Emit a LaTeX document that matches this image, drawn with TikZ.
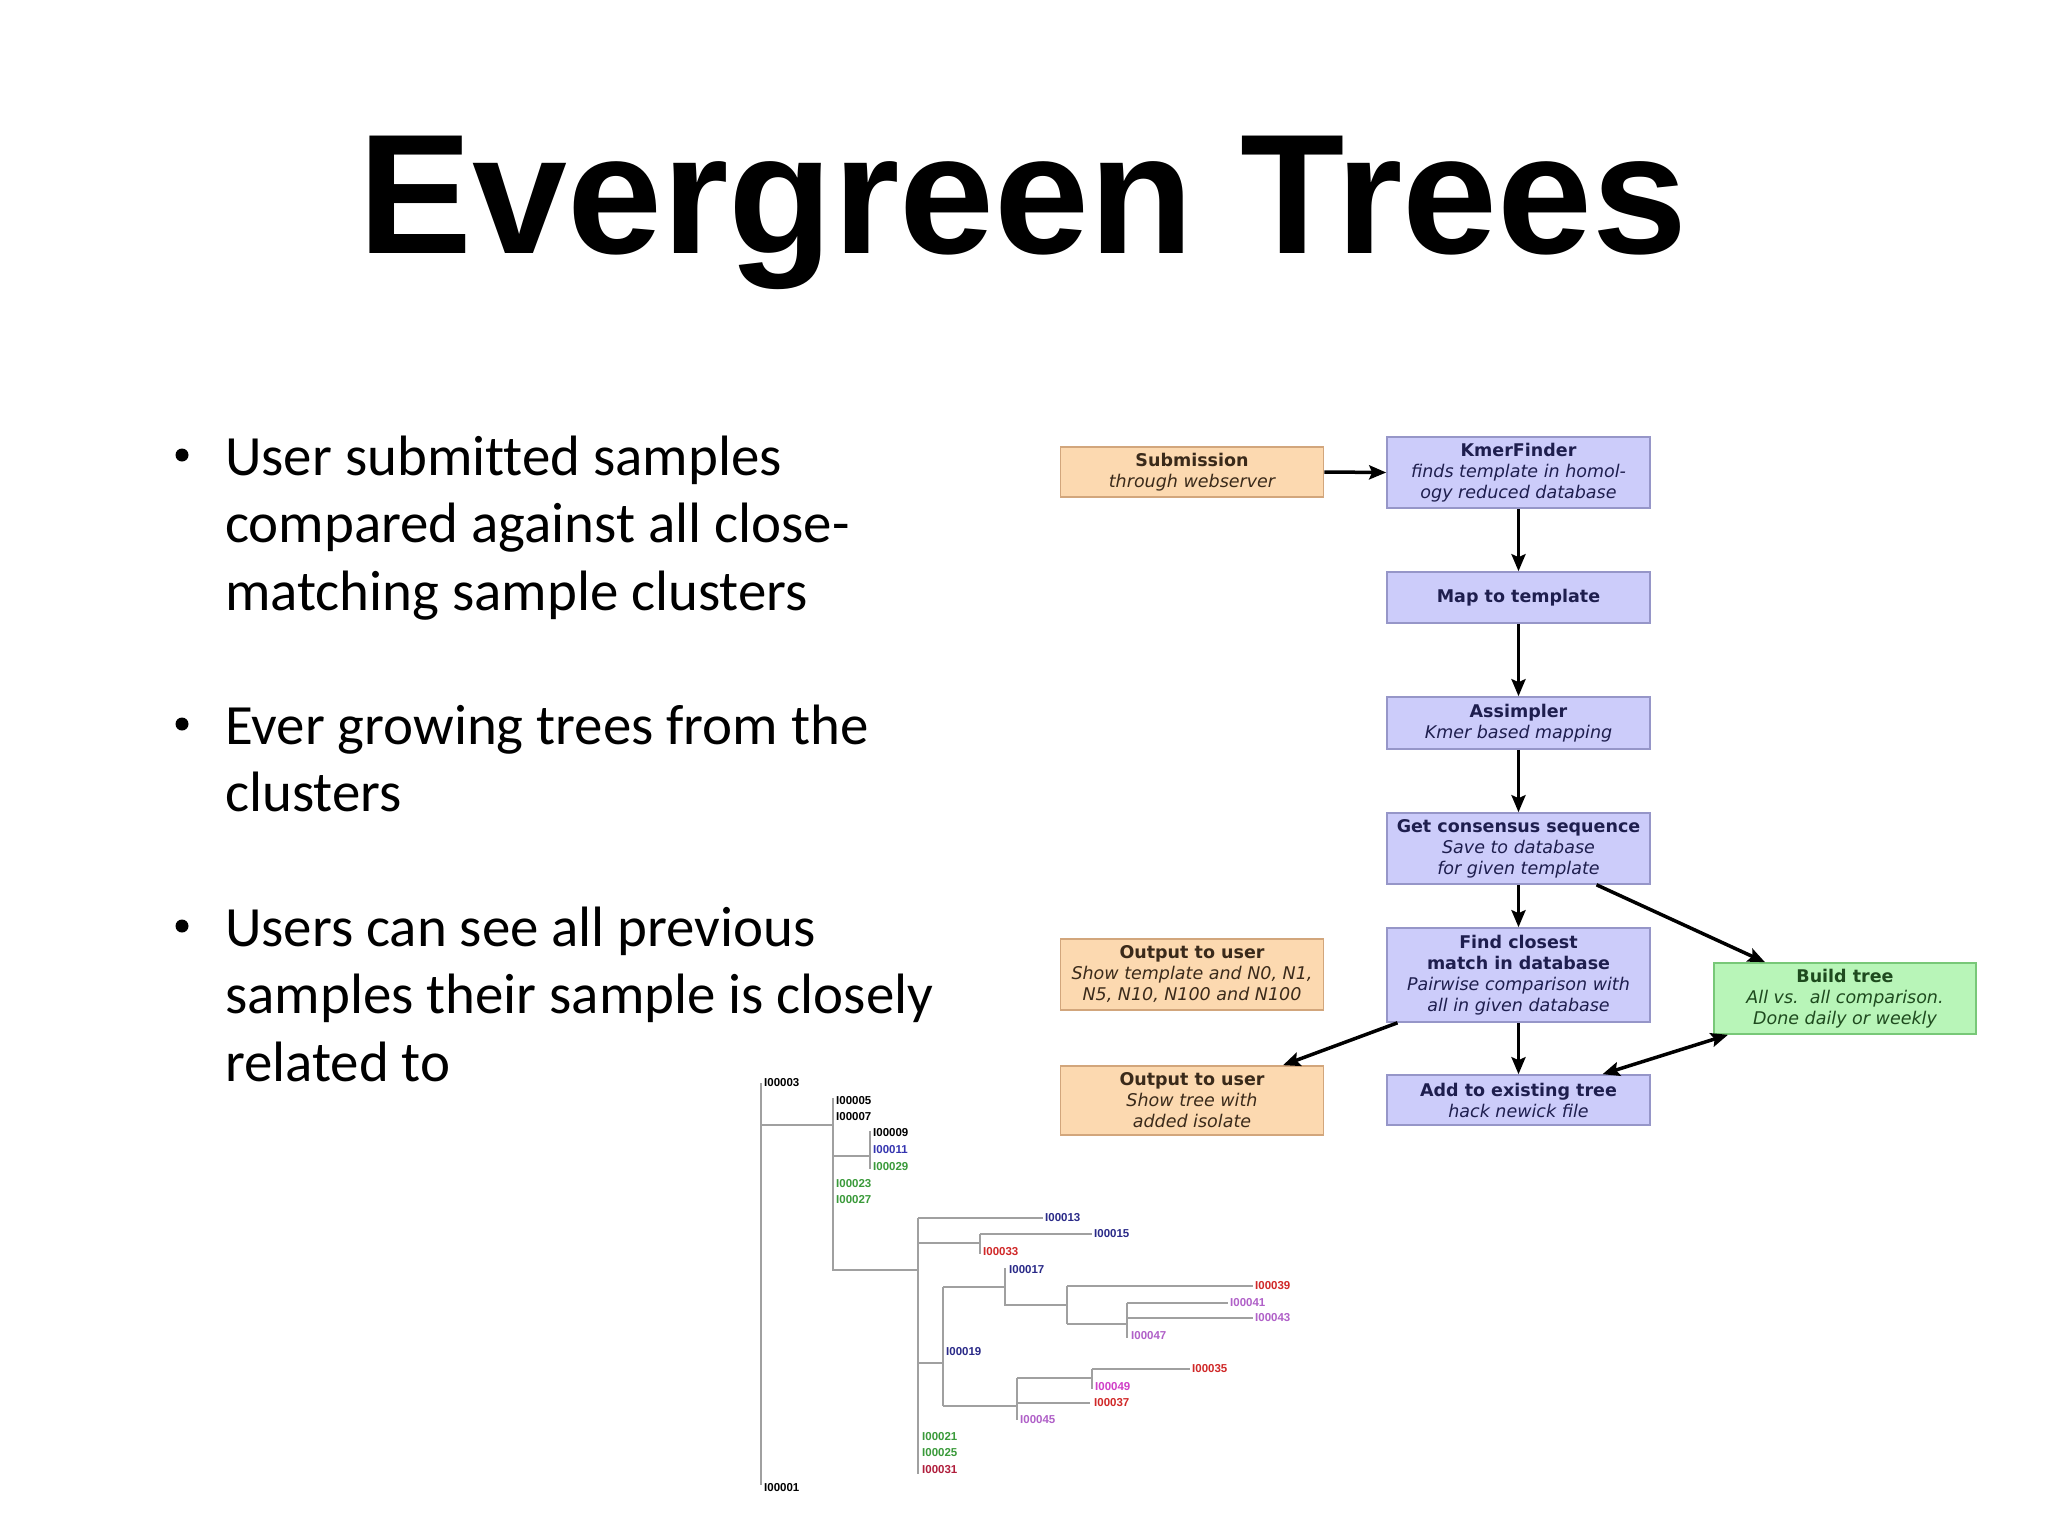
\documentclass[tikz,border=0pt]{standalone}
\usepackage{fontspec}
\setmainfont{Carlito}[Ligatures=NoCommon]
\newfontfamily\titlefont{Liberation Sans}
\newfontfamily\boxfont{DejaVu Sans}
\newfontfamily\treefont{Liberation Sans}
\usetikzlibrary{arrows.meta,calc}
\definecolor{orfill}{HTML}{FCD9B0}
\definecolor{ordraw}{HTML}{D2A67C}
\definecolor{blfill}{HTML}{CCCCFA}
\definecolor{bldraw}{HTML}{9696C8}
\definecolor{grfill}{HTML}{B8F5B8}
\definecolor{grdraw}{HTML}{78C878}
\definecolor{ortext}{HTML}{3A2A1A}
\definecolor{bltext}{HTML}{1E1E4E}
\definecolor{grtext}{HTML}{1E4A1E}
\definecolor{treegray}{HTML}{A0A0A0}
\definecolor{tnavy}{HTML}{2A2A88}
\definecolor{tblue}{HTML}{3535B0}
\definecolor{tgreen}{HTML}{3A9A3A}
\definecolor{tred}{HTML}{D02828}
\definecolor{tviolet}{HTML}{B060C8}
\definecolor{tmagenta}{HTML}{D040C8}
\definecolor{tcrimson}{HTML}{B01E3C}
\begin{document}
\begin{tikzpicture}[x=1pt,y=-1pt,
  bline/.style={anchor=base west, inner sep=0pt, font=\fontsize{56.9}{68}\selectfont},
  fbox/.style={draw, line width=1.6pt, inner sep=0pt, align=center,
     minimum width=263pt, font=\boxfont\fontsize{17.5}{21}\selectfont},
  orbox/.style={fbox, fill=orfill, draw=ordraw, text=ortext},
  blbox/.style={fbox, fill=blfill, draw=bldraw, text=bltext},
  grbox/.style={fbox, fill=grfill, draw=grdraw, text=grtext},
  arr/.style={line width=3.5pt, -{Stealth[length=17pt,width=14pt,inset=3pt]}},
  darr/.style={line width=3.5pt, {Stealth[length=17pt,width=14pt,inset=3pt]}-{Stealth[length=17pt,width=14pt,inset=3pt]}},
  tl/.style={draw=treegray, line width=1.8pt},
  lab/.style={anchor=west, inner sep=0pt, font=\treefont\bfseries\fontsize{11.5}{12}\selectfont}
]
\useasboundingbox[fill=white] (0,0) rectangle (2048,1536);

% title
\node[anchor=base, inner sep=0pt, font=\titlefont\bfseries\fontsize{170.7}{200}\selectfont] (title) at (1023,253) {Evergreen Trees};

% bullets
\fill (182,455) circle (6.5pt);
\fill (182,724) circle (6.5pt);
\fill (182,926) circle (6.5pt);
\node[bline] (b1a) at (225,475) {User submitted samples};
\node[bline] (b1b) at (225,542) {compared against all close-};
\node[bline] (b1c) at (225,610) {matching sample clusters};
\node[bline] (b2a) at (225,744) {Ever growing trees from the};
\node[bline] (b2b) at (225,811) {clusters};
\node[bline] (b3a) at (225,946) {Users can see all previous};
\node[bline] (b3b) at (225,1013) {samples their sample is closely};
\node[bline] (b3c) at (225,1081) {related to};

% flowchart
\node[orbox, minimum height=50pt] (sub) at (1192,472) {{\bfseries Submission}\\{\itshape through webserver}};
\node[blbox, minimum height=71pt] (kmer) at (1518.5,472.5) {{\bfseries KmerFinder}\\{\itshape finds template in homol-}\\{\itshape ogy reduced database}};
\node[blbox, minimum height=51pt] (map) at (1518.5,597.5) {{\bfseries Map to template}};
\node[blbox, minimum height=52pt] (assim) at (1518.5,723) {{\bfseries Assimpler}\\{\itshape Kmer based mapping}};
\node[blbox, minimum height=71pt] (cons) at (1518.5,848.5) {{\bfseries Get consensus sequence}\\{\itshape Save to database}\\{\itshape for given template}};
\node[blbox, minimum height=94pt] (find) at (1518.5,975) {{\bfseries Find closest}\\{\bfseries match in database}\\{\itshape Pairwise comparison with}\\{\itshape all in given database}};
\node[blbox, minimum height=50pt] (add) at (1518.5,1100) {{\bfseries Add to existing tree}\\{\itshape hack newick file}};
\node[grbox, minimum height=71pt, minimum width=262pt] (build) at (1845,998.5) {{\bfseries Build tree}\\{\itshape All vs.\ \ all comparison.}\\{\itshape Done daily or weekly}};
\node[orbox, minimum height=71pt] (out1) at (1192,974.5) {{\bfseries Output to user}\\{\itshape Show template and N0, N1,}\\{\itshape N5, N10, N100 and N100}};
\node[orbox, minimum height=69pt] (out2) at (1192,1100.5) {{\bfseries Output to user}\\{\itshape Show tree with}\\{\itshape added isolate}};

\draw[arr] (sub.east) -- (kmer.west);
\draw[arr] (kmer.south) -- (map.north);
\draw[arr] (map.south) -- (assim.north);
\draw[arr] (assim.south) -- (cons.north);
\draw[arr] (cons.south) -- (find.north);
\draw[arr] ($(cons.south)+(78,0)$) -- ($(build.north)+(-80,0)$);
\draw[arr] ($(find.south)+(-121,0)$) -- ($(out2.north)+(91,0)$);
\draw[arr] (find.south) -- (add.north);
\draw[darr] ($(add.north)+(84,0)$) -- ($(build.south)+(-117,0)$);

% tree lines
\draw[tl] (761,1083) -- (761,1485);
\draw[tl] (761,1125) -- (833,1125);
\draw[tl] (833,1098) -- (833,1270) -- (918,1270);
\draw[tl] (833,1156) -- (870,1156);
\draw[tl] (870,1131) -- (870,1169);
\draw[tl] (918,1218) -- (918,1474);
\draw[tl] (918,1218) -- (1043,1218);
\draw[tl] (918,1243) -- (980,1243);
\draw[tl] (980,1234) -- (980,1254);
\draw[tl] (980,1234) -- (1092,1234);
\draw[tl] (918,1363) -- (943,1363);
\draw[tl] (943,1287) -- (943,1406);
\draw[tl] (943,1287) -- (1005,1287);
\draw[tl] (1005,1268) -- (1005,1305) -- (1067,1305);
\draw[tl] (1067,1286) -- (1067,1324);
\draw[tl] (1067,1286) -- (1253,1286);
\draw[tl] (1067,1324) -- (1127,1324);
\draw[tl] (1127,1303) -- (1127,1338);
\draw[tl] (1127,1303) -- (1228,1303);
\draw[tl] (1127,1318) -- (1253,1318);
\draw[tl] (943,1406) -- (1017,1406);
\draw[tl] (1017,1378) -- (1017,1420);
\draw[tl] (1017,1378) -- (1092,1378);
\draw[tl] (1092,1369) -- (1092,1389);
\draw[tl] (1092,1369) -- (1190,1369);
\draw[tl] (1017,1403) -- (1090,1403);

% tree labels
\node[lab, text=black] (l03) at (764,1083) {I00003};
\node[lab, text=black] (l01) at (764,1488) {I00001};
\node[lab, text=black] (l05) at (836,1101) {I00005};
\node[lab, text=black] (l07) at (836,1117) {I00007};
\node[lab, text=black] (l09) at (873,1133) {I00009};
\node[lab, text=tblue] (l11) at (873,1150) {I00011};
\node[lab, text=tgreen] (l29) at (873,1167) {I00029};
\node[lab, text=tgreen] (l23) at (836,1184) {I00023};
\node[lab, text=tgreen] (l27) at (836,1200) {I00027};
\node[lab, text=tnavy] (l13) at (1045,1218) {I00013};
\node[lab, text=tnavy] (l15) at (1094,1234) {I00015};
\node[lab, text=tred] (l33) at (983,1252) {I00033};
\node[lab, text=tnavy] (l17) at (1009,1270) {I00017};
\node[lab, text=tred] (l39) at (1255,1286) {I00039};
\node[lab, text=tviolet] (l41) at (1230,1303) {I00041};
\node[lab, text=tviolet] (l43) at (1255,1318) {I00043};
\node[lab, text=tviolet] (l47) at (1131,1336) {I00047};
\node[lab, text=tnavy] (l19) at (946,1352) {I00019};
\node[lab, text=tred] (l35) at (1192,1369) {I00035};
\node[lab, text=tmagenta] (l49) at (1095,1387) {I00049};
\node[lab, text=tred] (l37) at (1094,1403) {I00037};
\node[lab, text=tviolet] (l45) at (1020,1420) {I00045};
\node[lab, text=tgreen] (l21) at (922,1437) {I00021};
\node[lab, text=tgreen] (l25) at (922,1453) {I00025};
\node[lab, text=tcrimson] (l31) at (922,1470) {I00031};
\end{tikzpicture}
\end{document}
